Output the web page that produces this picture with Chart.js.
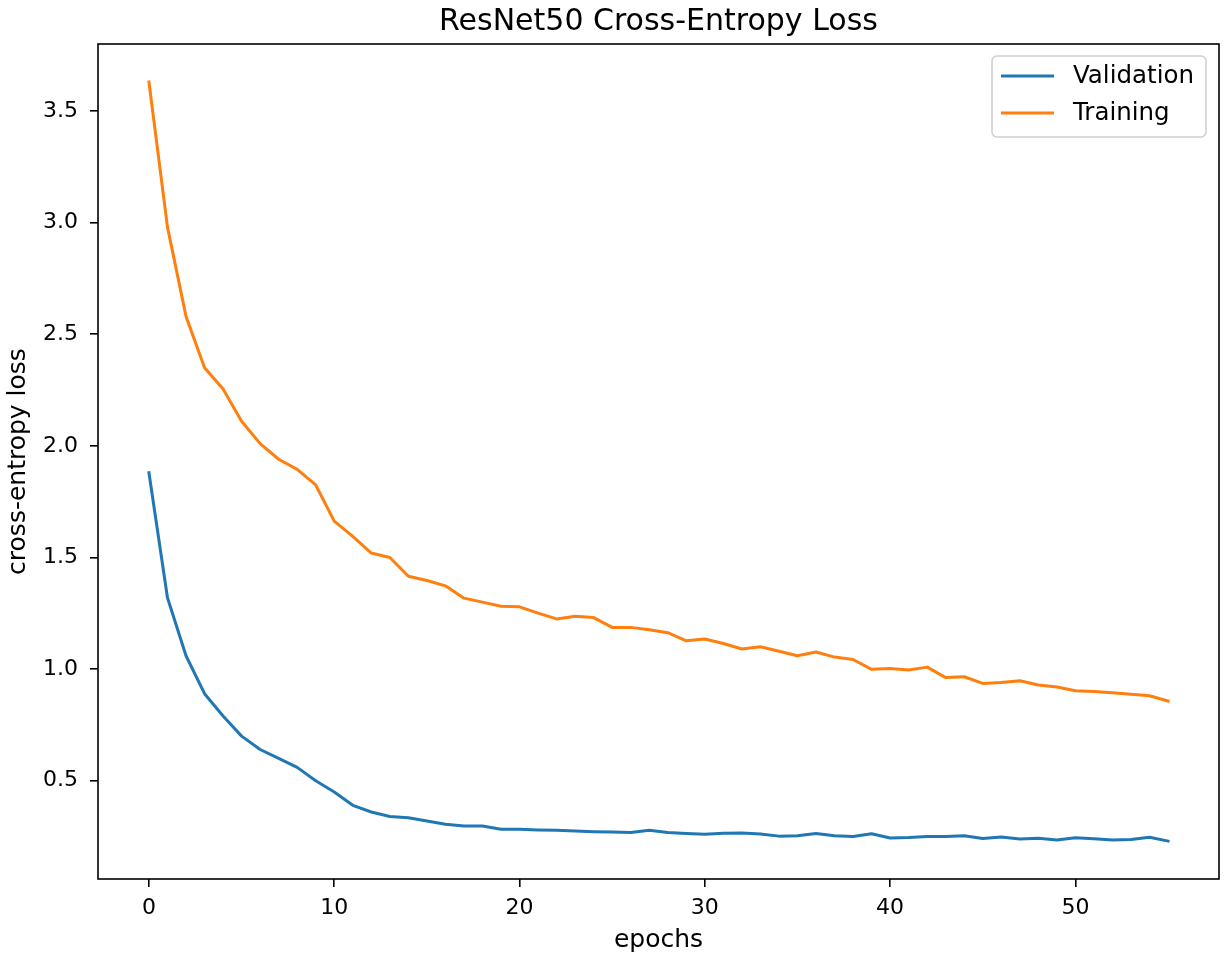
<!DOCTYPE html>
<html>
<head>
<meta charset="utf-8">
<script src="https://cdn.jsdelivr.net/npm/chart.js@4"></script>
<style>
  body { margin: 0; background: #fff; }
  canvas { display: block; }
</style>
</head>
<body>
<canvas id="lossChart" width="1225" height="959"></canvas>
<script>
// valores
const epochs = [0, 1, 2, 3, 4, 5, 6, 7, 8, 9, 10, 11, 12, 13, 14, 15, 16, 17, 18, 19,
  20, 21, 22, 23, 24, 25, 26, 27, 28, 29, 30, 31, 32, 33, 34, 35, 36, 37, 38, 39,
  40, 41, 42, 43, 44, 45, 46, 47, 48, 49, 50, 51, 52, 53, 54, 55];

const validationLoss = [1.88, 1.32, 1.06, 0.89, 0.79, 0.70, 0.64, 0.60, 0.56, 0.50,
  0.45, 0.39, 0.36, 0.34, 0.334, 0.32, 0.305, 0.297, 0.297, 0.283,
  0.283, 0.28, 0.278, 0.275, 0.272, 0.27, 0.268, 0.278, 0.268, 0.264,
  0.26, 0.265, 0.266, 0.262, 0.252, 0.254, 0.264, 0.254, 0.25, 0.263,
  0.244, 0.246, 0.25, 0.25, 0.254, 0.241, 0.248, 0.239, 0.242, 0.235,
  0.245, 0.24, 0.235, 0.237, 0.247, 0.23];

const trainingLoss = [3.63, 2.98, 2.58, 2.35, 2.255, 2.11, 2.01, 1.94, 1.895, 1.825,
  1.663, 1.595, 1.52, 1.50, 1.416, 1.397, 1.373, 1.318, 1.30, 1.282,
  1.279, 1.251, 1.225, 1.237, 1.231, 1.187, 1.187, 1.176, 1.163, 1.127,
  1.135, 1.115, 1.09, 1.10, 1.08, 1.06, 1.077, 1.054, 1.043, 0.999,
  1.003, 0.996, 1.009, 0.962, 0.966, 0.936, 0.940, 0.948, 0.929, 0.92,
  0.903, 0.90, 0.894, 0.887, 0.881, 0.857];

const xTicks = [0, 10, 20, 30, 40, 50];
const yTicks = [0.5, 1.0, 1.5, 2.0, 2.5, 3.0, 3.5];

const chartTitle = 'ResNet50 Cross-Entropy Loss';
const FONT = 'DejaVu Sans';

// margem de 5% igual ao matplotlib
function padRange(values) {
  const lo = Math.min(...values), hi = Math.max(...values);
  const m = (hi - lo) * 0.05;
  return [lo - m, hi + m];
}
const [xMin, xMax] = padRange(epochs);
const [yMin, yMax] = padRange(validationLoss.concat(trainingLoss));

const toPoints = vals => vals.map((v, i) => ({x: epochs[i], y: v}));

// titulo centrado nos eixos, moldura completa e legenda dentro do grafico
const framePlugin = {
  id: 'frame',
  afterDraw(chart) {
    const {ctx, chartArea: a} = chart;
    ctx.save();
    ctx.fillStyle = '#000';
    ctx.font = '30px "' + FONT + '"';
    ctx.textAlign = 'center';
    ctx.textBaseline = 'alphabetic';
    ctx.fillText(chartTitle, (a.left + a.right) / 2, 29.5);

    ctx.strokeStyle = '#000';
    ctx.lineWidth = 1.6;
    ctx.strokeRect(a.left, a.top, a.right - a.left, a.bottom - a.top);

    const bx = a.right - 227, by = a.top + 12, bw = 214, bh = 81;
    ctx.beginPath();
    ctx.roundRect(bx, by, bw, bh, 5);
    ctx.fillStyle = 'rgba(255,255,255,0.8)';
    ctx.fill();
    ctx.strokeStyle = '#d0d0d0';
    ctx.lineWidth = 1.6;
    ctx.stroke();

    ctx.font = '24.5px "' + FONT + '"';
    ctx.textBaseline = 'middle';
    ctx.textAlign = 'left';
    chart.data.datasets.forEach((ds, i) => {
      const y = by + 20 + i * 37;
      ctx.beginPath();
      ctx.moveTo(bx + 9, y);
      ctx.lineTo(bx + 62, y);
      ctx.strokeStyle = ds.borderColor;
      ctx.lineWidth = 3;
      ctx.stroke();
      ctx.fillStyle = '#000';
      ctx.fillText(ds.label, bx + 81, y + 1);
    });
    ctx.restore();
  }
};

const axisStyle = {
  border: {display: false},
  grid: {drawOnChartArea: false, drawTicks: true, tickLength: 8, color: '#000', lineWidth: 1.6},
};

const ctx = document.getElementById('lossChart').getContext('2d');
new Chart(ctx, {
  type: 'line',
  data: {
    datasets: [{
      label: 'Validation',
      data: toPoints(validationLoss),
      borderColor: '#1f77b4',
      borderWidth: 3,
      pointRadius: 0,
      tension: 0,
      borderJoinStyle: 'round',
      borderCapStyle: 'square',
    }, {
      label: 'Training',
      data: toPoints(trainingLoss),
      borderColor: '#ff7f0e',
      borderWidth: 3,
      pointRadius: 0,
      tension: 0,
      borderJoinStyle: 'round',
      borderCapStyle: 'square',
    }]
  },
  options: {
    responsive: false,
    animation: false,
    layout: {padding: {left: 0, right: 6, top: 44, bottom: 0}},
    plugins: {
      legend: {display: false},
      tooltip: {enabled: false},
      title: {display: false},
    },
    scales: {
      x: {
        ...axisStyle,
        type: 'linear',
        min: xMin,
        max: xMax,
        afterBuildTicks: s => { s.ticks = xTicks.map(v => ({value: v})); },
        afterFit: s => { s.height = 80; },
        ticks: {color: '#000', padding: 8, maxRotation: 0, font: {family: FONT, size: 22}},
        title: {display: true, text: 'epochs', color: '#000', padding: {top: 0, bottom: 4},
          font: {family: FONT, size: 25}},
      },
      y: {
        ...axisStyle,
        type: 'linear',
        min: yMin,
        max: yMax,
        afterBuildTicks: s => { s.ticks = yTicks.map(v => ({value: v})); },
        afterFit: s => { s.width = 98; },
        ticks: {color: '#000', padding: 12, font: {family: FONT, size: 22},
          callback: v => v.toFixed(1)},
        title: {display: true, text: 'cross-entropy loss', color: '#000', padding: {top: 3, bottom: 0},
          font: {family: FONT, size: 25}},
      }
    }
  },
  plugins: [framePlugin]
});
</script>
</body>
</html>
